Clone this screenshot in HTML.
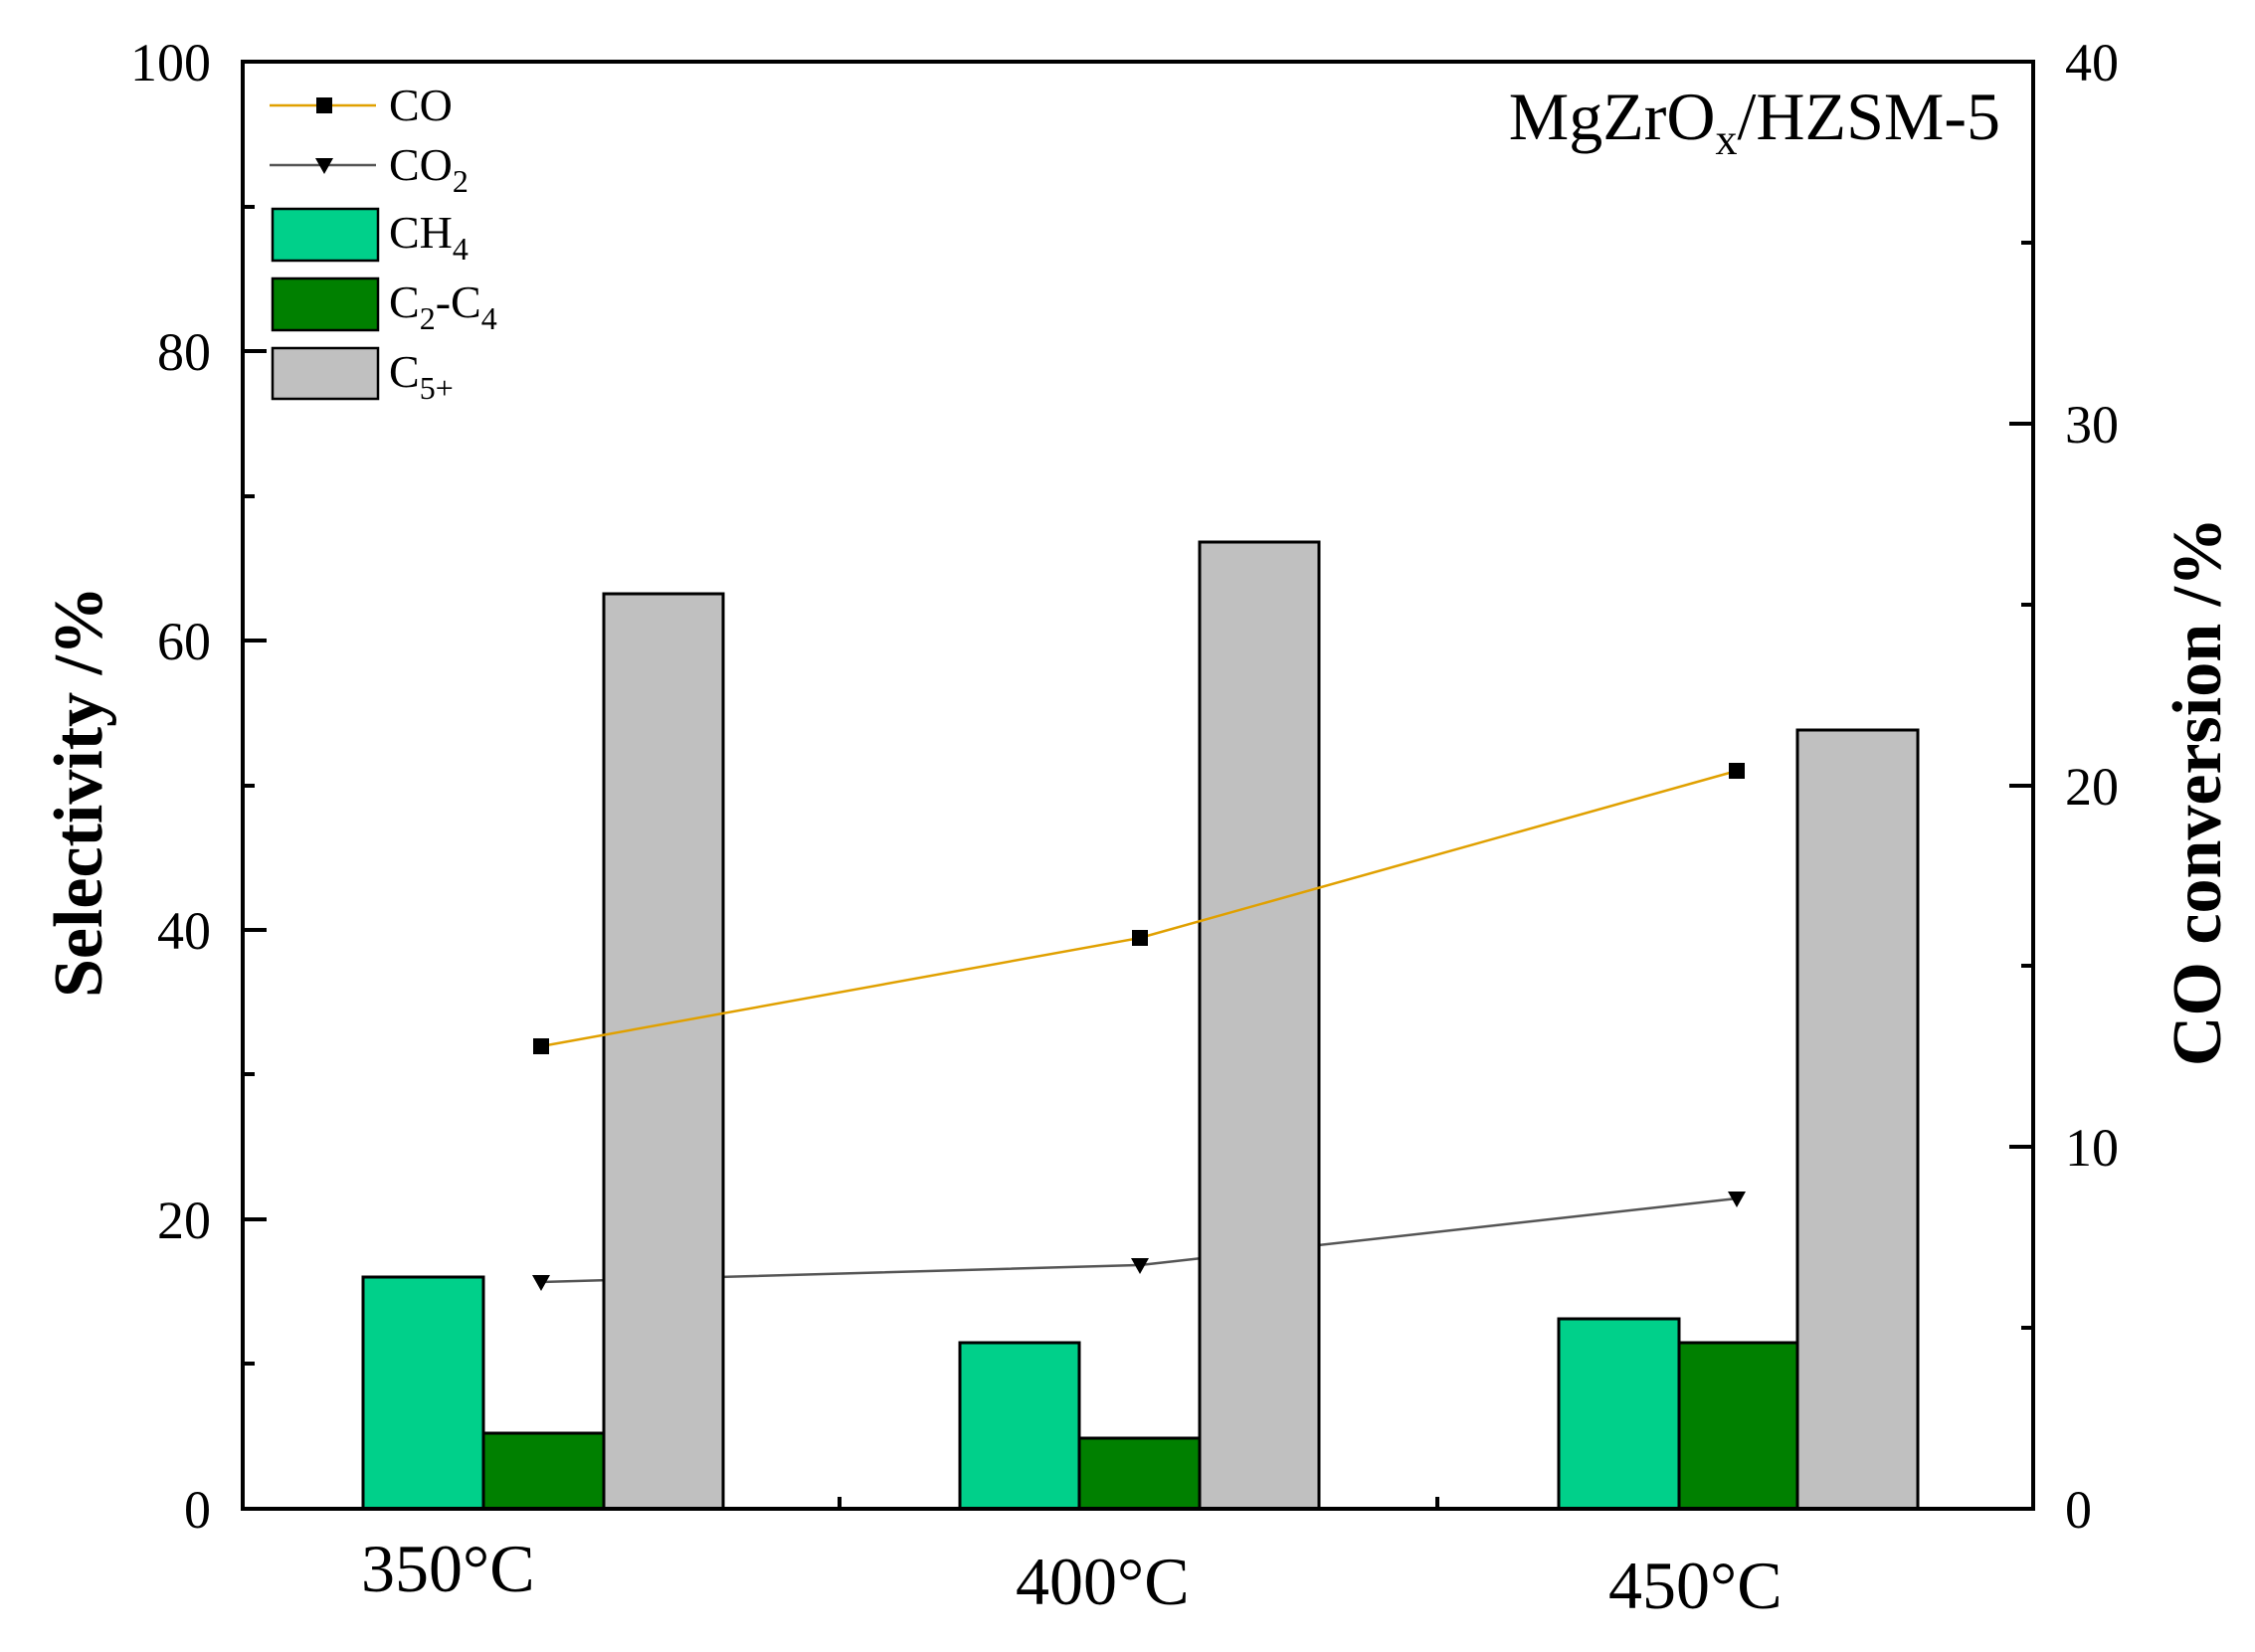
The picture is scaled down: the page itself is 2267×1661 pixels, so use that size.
<!DOCTYPE html>
<html><head><meta charset="utf-8"><style>
html,body{margin:0;padding:0;background:#fff;}
svg text{font-family:"Liberation Serif",serif;fill:#000;}
</style></head><body>
<svg width="2267" height="1656" viewBox="0 0 2267 1656" xmlns="http://www.w3.org/2000/svg">
<rect width="2267" height="1656" fill="#fff"/>
<polyline points="544,1289 1146,1272 1746,1205" fill="none" stroke="#555" stroke-width="2.5"/>
<g stroke="#000" stroke-width="3">
<rect x="365" y="1284" width="121" height="233" fill="#00d08a"/>
<rect x="486" y="1441" width="121" height="76" fill="#008000"/>
<rect x="607" y="597" width="120" height="920" fill="#c0c0c0"/>
<rect x="965" y="1350" width="120" height="167" fill="#00d08a"/>
<rect x="1085" y="1446" width="121" height="71" fill="#008000"/>
<rect x="1206" y="545" width="120" height="972" fill="#c0c0c0"/>
<rect x="1567" y="1326" width="121" height="191" fill="#00d08a"/>
<rect x="1688" y="1350" width="119" height="167" fill="#008000"/>
<rect x="1807" y="734" width="121" height="783" fill="#c0c0c0"/>
</g>
<polyline points="544,1052 1146,943 1746,775" fill="none" stroke="#e0a000" stroke-width="2.5"/>
<g fill="#000">
<rect x="536" y="1044" width="16" height="16"/><rect x="1138" y="935" width="16" height="16"/><rect x="1738" y="767" width="16" height="16"/>
<polygon points="535,1282 553,1282 544,1298"/><polygon points="1137,1265 1155,1265 1146,1281"/><polygon points="1737,1198 1755,1198 1746,1214"/>
</g>
<rect x="244" y="62" width="1800" height="1455" fill="none" stroke="#000" stroke-width="4"/>
<g stroke="#000" stroke-width="4">
<line x1="244" y1="1226" x2="268" y2="1226"/><line x1="244" y1="935" x2="268" y2="935"/><line x1="244" y1="644" x2="268" y2="644"/><line x1="244" y1="353" x2="268" y2="353"/>
<line x1="244" y1="1371" x2="256" y2="1371"/><line x1="244" y1="1080" x2="256" y2="1080"/><line x1="244" y1="790" x2="256" y2="790"/><line x1="244" y1="499" x2="256" y2="499"/><line x1="244" y1="208" x2="256" y2="208"/>
<line x1="2044" y1="1153" x2="2020" y2="1153"/><line x1="2044" y1="790" x2="2020" y2="790"/><line x1="2044" y1="426" x2="2020" y2="426"/>
<line x1="2044" y1="1335" x2="2032" y2="1335"/><line x1="2044" y1="971" x2="2032" y2="971"/><line x1="2044" y1="608" x2="2032" y2="608"/><line x1="2044" y1="244" x2="2032" y2="244"/>
<line x1="844" y1="1517" x2="844" y2="1505"/><line x1="1445" y1="1517" x2="1445" y2="1505"/>
</g>
<g font-size="54" text-anchor="end">
<text x="212" y="1536">0</text><text x="212" y="1245">20</text><text x="212" y="954">40</text><text x="212" y="663">60</text><text x="212" y="372">80</text><text x="212" y="81">100</text>
</g>
<g font-size="54">
<text x="2076" y="1536">0</text><text x="2076" y="1172">10</text><text x="2076" y="809">20</text><text x="2076" y="445">30</text><text x="2076" y="81">40</text>
</g>
<g font-size="68">
<text x="363" y="1600">350°C</text><text x="1021" y="1613">400°C</text><text x="1617" y="1617">450°C</text>
</g>
<text x="2011" y="140" font-size="68" text-anchor="end">MgZrO<tspan font-size="44" dy="15">x</tspan><tspan dy="-15">/HZSM-5</tspan></text>
<text transform="translate(102,796) rotate(-90)" font-size="70" font-weight="bold" text-anchor="middle">Selectivity /%</text>
<text transform="translate(2232,796) rotate(-90)" font-size="70" font-weight="bold" text-anchor="middle">CO conversion /%</text>
<line x1="271" y1="106" x2="378" y2="106" stroke="#e0a000" stroke-width="2.5"/>
<rect x="318" y="98" width="16" height="16" fill="#000"/>
<line x1="271" y1="166" x2="378" y2="166" stroke="#555" stroke-width="2.5"/>
<polygon points="317,159 335,159 326,175" fill="#000"/>
<rect x="274" y="210" width="106" height="52" fill="#00d08a" stroke="#000" stroke-width="2.5"/>
<rect x="274" y="280" width="106" height="52" fill="#008000" stroke="#000" stroke-width="2.5"/>
<rect x="274" y="350" width="106" height="51" fill="#c0c0c0" stroke="#000" stroke-width="2.5"/>
<g font-size="46">
<text x="391" y="121">CO</text>
<text x="391" y="181">CO<tspan font-size="32" dy="12">2</tspan></text>
<text x="391" y="249">CH<tspan font-size="32" dy="12">4</tspan></text>
<text x="391" y="319">C<tspan font-size="32" dy="12">2</tspan><tspan dy="-12">-C</tspan><tspan font-size="32" dy="12">4</tspan></text>
<text x="391" y="389">C<tspan font-size="32" dy="12">5+</tspan></text>
</g>
</svg>
</body></html>
